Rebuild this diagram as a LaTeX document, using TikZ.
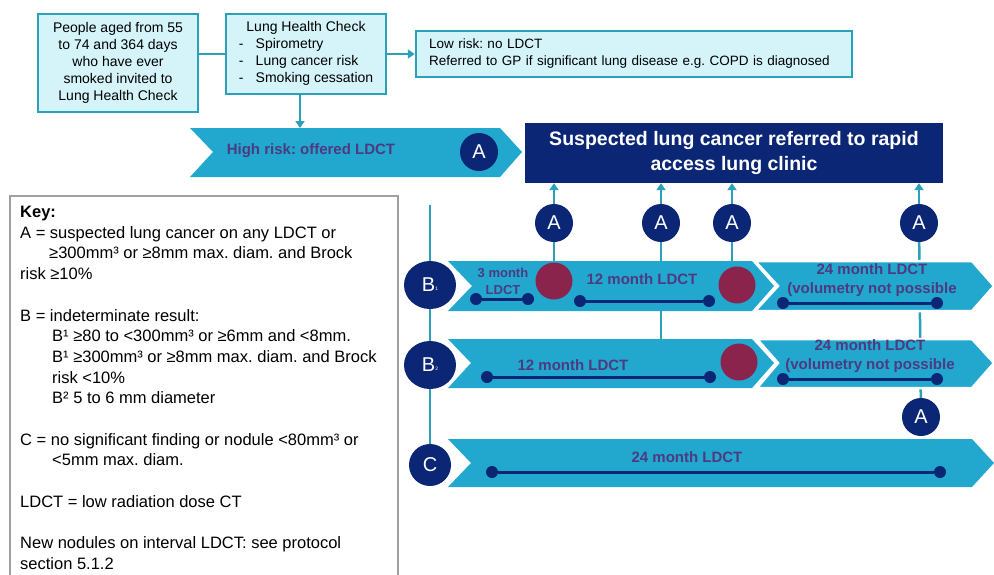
\documentclass[tikz,border=0pt]{standalone}
\usepackage{fontspec}
\setmainfont{Liberation Sans}
\usetikzlibrary{arrows.meta,shapes.geometric}
\frenchspacing

\definecolor{boxfill}{RGB}{212,244,250}
\definecolor{boxline}{RGB}{42,160,186}
\definecolor{chevfill}{RGB}{34,167,207}
\definecolor{navy}{RGB}{12,38,118}
\definecolor{maroon}{RGB}{138,36,76}
\definecolor{chevtext}{RGB}{78,58,128}
\definecolor{keyline}{RGB}{160,160,160}

\pgfdeclarelayer{lines}
\pgfdeclarelayer{chevs}
\pgfsetlayers{lines,chevs,main}

\tikzset{
  infobox/.style={draw=boxline, fill=boxfill, line width=2.5pt, align=center, inner sep=2pt,
    font=\fontsize{14}{17}\selectfont},
  conn/.style={draw=boxline, line width=2.5pt},
  arr/.style={conn, -{Triangle[width=9pt,length=7pt]}},
  chev/.style={fill=chevfill},
  chevgap/.style={fill=chevfill, draw=white, line width=2.5pt},
  acirc/.style={circle, fill=navy, text=white, minimum size=38pt, inner sep=0pt,
    font=\fontsize{20}{20}\selectfont},
  bcirc/.style={ellipse, fill=navy, text=white, minimum width=52pt, minimum height=48pt, inner sep=0pt,
    font=\fontsize{20}{20}\selectfont},
  redcirc/.style={circle, fill=maroon, minimum size=37pt, inner sep=0pt},
  dot/.style={circle, fill=navy, minimum size=12pt, inner sep=0pt},
  bar/.style={draw=navy, line width=3pt},
  chevlabel/.style={text=chevtext, align=center, inner sep=0pt,
    font=\bfseries\fontsize{15}{19}\selectfont},
}

\begin{document}
\begin{tikzpicture}[x=1pt, y=-1pt]
\useasboundingbox (0,0) rectangle (994,574);

% top boxes
\node[infobox, minimum width=160pt, minimum height=98pt] (ppl) at (118,63)
  {People aged from 55\\to 74 and 364 days\\who have ever\\smoked invited to\\Lung Health Check};
\node[infobox, minimum width=160pt, minimum height=80pt] (lhc) at (306,54)
  {\begin{tabular}{@{}l@{}}\multicolumn{1}{@{}c@{}}{Lung Health Check}\\
   \makebox[17pt][l]{-}Spirometry\\
   \makebox[17pt][l]{-}Lung cancer risk\\
   \makebox[17pt][l]{-}Smoking cessation\end{tabular}};
\node[infobox, align=left, text width=410pt, minimum height=46pt, inner xsep=13pt,
  font=\fontsize{13.5}{17}\selectfont] (low) at (634,54)
  {Low risk: no LDCT\\Referred to GP if significant lung disease e.g. COPD is diagnosed};

\node[fill=navy, text=white, minimum width=418pt, minimum height=60pt, align=center,
  font=\bfseries\fontsize{19.5}{25}\selectfont] (susp) at (734,153)
  {Suspected lung cancer referred to rapid\\access lung clinic};

% key
\draw[keyline, line width=1.5pt] (10,590) rectangle (398,196);
\node[anchor=north west, align=left, inner sep=0pt, font=\fontsize{16.5}{20.7}\selectfont] (keytxt) at (20,206)
  {\textbf{Key:}\\
   A = suspected lung cancer on any LDCT or\\
   \hspace*{29pt}≥300mm³ or ≥8mm max. diam. and Brock\\
   risk ≥10\%\\[20.7pt]
   B = indeterminate result:\\
   \hspace*{32pt}B¹ ≥80 to <300mm³ or ≥6mm and <8mm.\\
   \hspace*{32pt}B¹ ≥300mm³ or ≥8mm max. diam. and Brock\\
   \hspace*{32pt}risk <10\%\\
   \hspace*{32pt}B² 5 to 6 mm diameter\\[20.7pt]
   C = no significant finding or nodule <80mm³ or\\
   \hspace*{32pt}<5mm max. diam.\\[20.7pt]
   LDCT = low radiation dose CT\\[20.7pt]
   New nodules on interval LDCT: see protocol\\
   section 5.1.2};

% chevrons
\begin{pgfonlayer}{chevs}
\fill[chev] (190,128) -- (500,128) -- (522,152) -- (500,177) -- (190,177) -- (213,152) -- cycle;
\fill[chev] (448,261) -- (752,261) -- (774,286) -- (752,311) -- (448,311) -- (472,286) -- cycle;
\filldraw[chevgap] (755,261) -- (972,261) -- (994,286) -- (972,311) -- (755,311) -- (778,286) -- cycle;
\fill[chev] (448,339) -- (752,339) -- (774,363) -- (752,388) -- (448,388) -- (471,363) -- cycle;
\filldraw[chevgap] (757,339) -- (972,339) -- (994,363) -- (972,388) -- (757,388) -- (778,363) -- cycle;
\fill[chev] (448,439) -- (972,439) -- (994,463) -- (972,487) -- (448,487) -- (471,463) -- cycle;
\end{pgfonlayer}

\coordinate (hrtop) at (300,128);
\coordinate (vtop) at (430,205);
\coordinate (b1top) at (600,262);
\coordinate (b2top) at (600,339);

\node[chevlabel] (hrtxt) at (311,151) {High risk: offered LDCT};
\node[acirc] (a0) at (479,152) {A};

% results
\node[bcirc] (b1) at (430,285) {B\raisebox{1pt}{\fontsize{5}{5}\selectfont 1}};
\node[bcirc] (b2) at (430,365) {B\raisebox{1pt}{\fontsize{5}{5}\selectfont 2}};
\node[circle, fill=navy, text=white, minimum size=42pt, inner sep=0pt, font=\fontsize{20}{20}\selectfont] (cc) at (430,465) {C};

\node[redcirc] (r1) at (554,281) {};
\node[redcirc] (r2) at (737,285) {};
\node[redcirc] (r3) at (739,362) {};

\node[acirc] (a1) at (554,223) {A};
\node[acirc] (a2) at (661,223) {A};
\node[acirc] (a3) at (732,223) {A};
\node[acirc] (a4) at (919,223) {A};
\node[acirc] (a5) at (921,417) {A};

% timelines
\node[dot] (t1s) at (476,299) {};
\node[dot] (t1e) at (528,299) {};
\node[dot] (t2s) at (580,301) {};
\node[dot] (t2e) at (709,301) {};
\node[dot] (t3s) at (783,303) {};
\node[dot] (t3e) at (937,303) {};
\node[dot] (t4s) at (487,377) {};
\node[dot] (t4e) at (710,377) {};
\node[dot] (t5s) at (783,379) {};
\node[dot] (t5e) at (937,379) {};
\node[dot] (t6s) at (492,472) {};
\node[dot] (t6e) at (940,472) {};
\foreach \s/\e in {t1s/t1e,t2s/t2e,t3s/t3e,t4s/t4e,t5s/t5e,t6s/t6e}
  \draw[bar] (\s) -- (\e);

\node[chevlabel, font=\bfseries\fontsize{13}{17}\selectfont] (l1) at (503,281) {3 month\\LDCT};
\node[chevlabel] (l2) at (642,279) {12 month LDCT};
\node[chevlabel] (l3) at (872,280) {24 month LDCT\\(volumetry not possible};
\node[chevlabel] (l4) at (573,365) {12 month LDCT};
\node[chevlabel] (l5) at (870,356) {24 month LDCT\\(volumetry not possible};
\node[chevlabel] (l6) at (687,457) {24 month LDCT};

% connectors
\begin{pgfonlayer}{lines}
\draw[conn] (ppl.east |- lhc.west) -- (lhc.west);
\draw[arr] (lhc.east) -- (low.west);
\draw[arr] (lhc.south -| hrtop) -- (hrtop);
\draw[conn] (vtop) -- (b1) -- (b2) -- (cc);
\foreach \n in {a1,a2,a3,a4}
  \draw[arr] (\n) -- (\n |- susp.south);
\draw[conn] (a1) -- (r1);
\draw[conn] (a2) -- (a2 |- b2top);
\draw[conn] (a3) -- (a3 |- b1top);
\draw[conn] (a4) -- (a5);
\end{pgfonlayer}
\end{tikzpicture}
\end{document}
